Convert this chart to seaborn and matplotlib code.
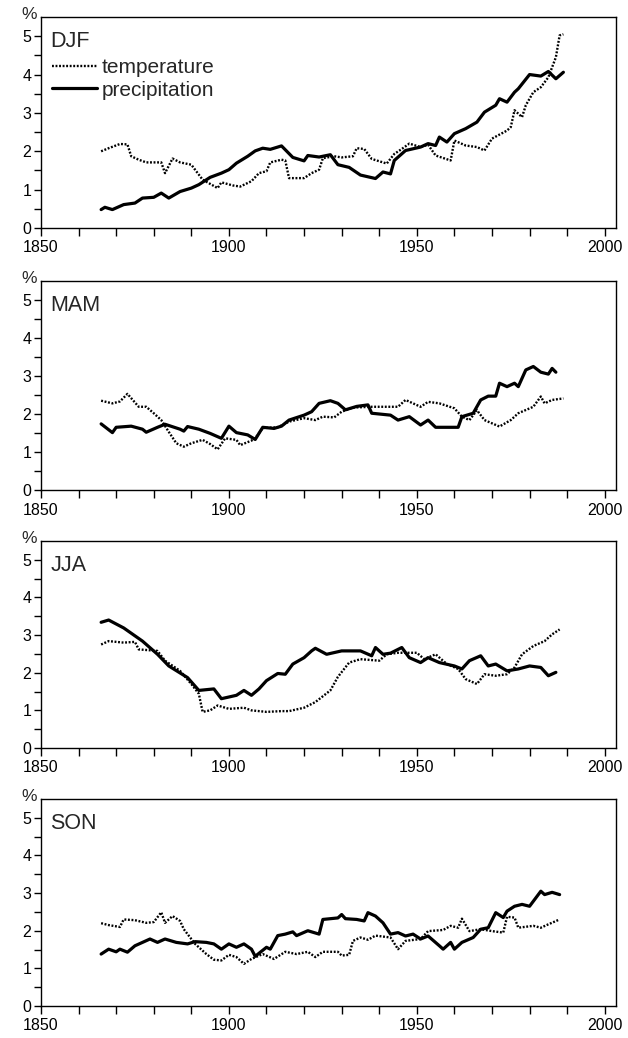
import matplotlib
matplotlib.use("Agg")
import matplotlib.pyplot as plt
import seaborn as sns

# ---------------- data ----------------
seasons = ["DJF", "MAM", "JJA", "SON"]
series_labels = ["temperature", "precipitation"]
x_major = [1850, 1900, 1950, 2000]
y_major = [0, 1, 2, 3, 4, 5]

djf_temp_years = [1866, 1868, 1871, 1873, 1874, 1876, 1878, 1882, 1883, 1885,
                  1887, 1890, 1893, 1897, 1898, 1901, 1903, 1906, 1908, 1910,
                  1911, 1914, 1915, 1916, 1920, 1922, 1924, 1925, 1928, 1930,
                  1933, 1934, 1936, 1938, 1942, 1944, 1946, 1948, 1951, 1953,
                  1955, 1959, 1960, 1963, 1966, 1968, 1970, 1974, 1975, 1976,
                  1978, 1979, 1981, 1983, 1985, 1987, 1988, 1989]
djf_temp = [2.00, 2.08, 2.19, 2.18, 1.87, 1.78, 1.71, 1.71, 1.43, 1.81,
            1.71, 1.65, 1.26, 1.04, 1.19, 1.11, 1.08, 1.22, 1.43, 1.48,
            1.71, 1.78, 1.76, 1.30, 1.30, 1.43, 1.52, 1.82, 1.87, 1.84,
            1.87, 2.08, 2.06, 1.80, 1.68, 1.93, 2.06, 2.20, 2.11, 2.17,
            1.89, 1.76, 2.28, 2.15, 2.11, 2.02, 2.33, 2.54, 2.63, 3.07,
            2.89, 3.20, 3.54, 3.67, 3.93, 4.45, 5.02, 5.05]

djf_prec_years = [1866, 1867, 1869, 1872, 1875, 1877, 1880, 1882, 1884, 1887,
                  1890, 1892, 1895, 1898, 1900, 1902, 1905, 1907, 1909, 1911,
                  1914, 1917, 1920, 1921, 1924, 1927, 1929, 1932, 1935, 1939,
                  1941, 1943, 1944, 1947, 1951, 1953, 1955, 1956, 1958, 1960,
                  1963, 1966, 1968, 1971, 1972, 1974, 1976, 1977, 1980, 1983,
                  1985, 1987, 1989]
djf_prec = [0.48, 0.54, 0.48, 0.61, 0.65, 0.78, 0.80, 0.91, 0.78, 0.95,
            1.04, 1.13, 1.32, 1.43, 1.52, 1.69, 1.87, 2.01, 2.08, 2.05,
            2.14, 1.84, 1.75, 1.89, 1.85, 1.91, 1.65, 1.58, 1.38, 1.29,
            1.46, 1.41, 1.76, 2.02, 2.11, 2.20, 2.15, 2.37, 2.24, 2.46,
            2.59, 2.76, 3.02, 3.20, 3.37, 3.28, 3.54, 3.63, 4.00, 3.96,
            4.08, 3.89, 4.06]

mam_temp_years = [1866, 1869, 1871, 1873, 1876, 1878, 1880, 1882, 1884, 1886,
                  1888, 1890, 1893, 1895, 1897, 1899, 1902, 1903, 1906, 1907,
                  1909, 1913, 1916, 1920, 1923, 1925, 1928, 1930, 1933, 1938,
                  1942, 1945, 1947, 1951, 1953, 1956, 1960, 1962, 1964, 1966,
                  1968, 1972, 1975, 1977, 1981, 1983, 1984, 1986, 1989]
mam_temp = [2.35, 2.28, 2.33, 2.53, 2.19, 2.19, 2.02, 1.84, 1.53, 1.23,
            1.14, 1.23, 1.32, 1.21, 1.07, 1.36, 1.32, 1.18, 1.30, 1.36,
            1.63, 1.65, 1.80, 1.89, 1.84, 1.93, 1.91, 2.06, 2.17, 2.19,
            2.19, 2.19, 2.37, 2.19, 2.32, 2.28, 2.15, 1.93, 1.84, 2.10,
            1.84, 1.67, 1.84, 2.02, 2.19, 2.46, 2.28, 2.37, 2.41]

mam_prec_years = [1866, 1869, 1870, 1874, 1877, 1878, 1881, 1883, 1887, 1888,
                  1889, 1892, 1895, 1898, 1900, 1902, 1905, 1907, 1909, 1912,
                  1914, 1916, 1920, 1922, 1924, 1927, 1929, 1931, 1934, 1937,
                  1938, 1943, 1945, 1948, 1951, 1953, 1955, 1961, 1962, 1965,
                  1967, 1969, 1971, 1972, 1974, 1976, 1977, 1979, 1981, 1983,
                  1985, 1986, 1987]
mam_prec = [1.74, 1.51, 1.65, 1.68, 1.60, 1.52, 1.65, 1.73, 1.60, 1.55,
            1.67, 1.60, 1.49, 1.36, 1.68, 1.51, 1.45, 1.33, 1.65, 1.62,
            1.68, 1.84, 1.97, 2.06, 2.28, 2.35, 2.28, 2.11, 2.20, 2.24,
            2.02, 1.97, 1.84, 1.93, 1.71, 1.84, 1.65, 1.65, 1.93, 2.02,
            2.37, 2.47, 2.47, 2.81, 2.72, 2.81, 2.72, 3.16, 3.25, 3.10,
            3.05, 3.20, 3.10]

jja_temp_years = [1866, 1868, 1872, 1875, 1876, 1881, 1883, 1887, 1890, 1892,
                  1893, 1895, 1897, 1900, 1904, 1906, 1910, 1914, 1916, 1920,
                  1923, 1927, 1929, 1932, 1935, 1940, 1942, 1945, 1950, 1952,
                  1955, 1958, 1961, 1963, 1966, 1968, 1971, 1974, 1976, 1978,
                  1981, 1984, 1986, 1988]
jja_temp = [2.75, 2.84, 2.80, 2.82, 2.62, 2.58, 2.32, 2.05, 1.70, 1.44,
            0.96, 1.00, 1.13, 1.04, 1.07, 1.00, 0.96, 0.98, 0.98, 1.07,
            1.22, 1.53, 1.89, 2.27, 2.36, 2.32, 2.49, 2.53, 2.53, 2.36,
            2.49, 2.23, 2.10, 1.83, 1.70, 1.96, 1.92, 1.96, 2.14, 2.49,
            2.71, 2.84, 3.02, 3.15]

jja_prec_years = [1866, 1868, 1872, 1877, 1881, 1884, 1889, 1892, 1896, 1898,
                  1902, 1904, 1906, 1908, 1910, 1913, 1915, 1917, 1920, 1922,
                  1923, 1926, 1930, 1935, 1938, 1939, 1941, 1943, 1946, 1948,
                  1951, 1953, 1956, 1960, 1962, 1964, 1967, 1969, 1971, 1974,
                  1977, 1980, 1983, 1985, 1987]
jja_prec = [3.34, 3.40, 3.19, 2.84, 2.49, 2.18, 1.87, 1.53, 1.57, 1.31,
            1.40, 1.53, 1.40, 1.57, 1.79, 1.98, 1.96, 2.23, 2.40, 2.58,
            2.65, 2.49, 2.58, 2.58, 2.45, 2.67, 2.49, 2.52, 2.67, 2.40,
            2.27, 2.40, 2.27, 2.18, 2.10, 2.32, 2.45, 2.18, 2.23, 2.05,
            2.10, 2.18, 2.14, 1.92, 2.01]

son_temp_years = [1866, 1868, 1871, 1872, 1875, 1878, 1880, 1882, 1883, 1885,
                  1887, 1888, 1890, 1891, 1894, 1896, 1898, 1900, 1902, 1904,
                  1906, 1909, 1912, 1915, 1918, 1921, 1923, 1925, 1929, 1930,
                  1932, 1933, 1935, 1937, 1939, 1943, 1945, 1947, 1951, 1953,
                  1957, 1959, 1961, 1962, 1964, 1967, 1970, 1973, 1974, 1976,
                  1977, 1981, 1983, 1985, 1988]
son_temp = [2.20, 2.15, 2.10, 2.30, 2.28, 2.21, 2.23, 2.49, 2.21, 2.39,
            2.26, 2.04, 1.78, 1.65, 1.38, 1.23, 1.21, 1.36, 1.30, 1.12,
            1.25, 1.38, 1.25, 1.44, 1.38, 1.44, 1.30, 1.44, 1.44, 1.34,
            1.36, 1.73, 1.82, 1.76, 1.87, 1.82, 1.51, 1.73, 1.78, 1.99,
            2.02, 2.13, 2.08, 2.32, 1.99, 2.04, 1.99, 1.95, 2.37, 2.35,
            2.08, 2.13, 2.08, 2.17, 2.30]

son_prec_years = [1866, 1868, 1870, 1871, 1873, 1875, 1877, 1879, 1881, 1883,
                  1886, 1889, 1891, 1894, 1896, 1898, 1900, 1902, 1904, 1906,
                  1907, 1910, 1911, 1913, 1915, 1917, 1918, 1921, 1924, 1925,
                  1929, 1930, 1931, 1934, 1936, 1937, 1939, 1941, 1943, 1945,
                  1947, 1949, 1951, 1953, 1956, 1957, 1959, 1960, 1962, 1965,
                  1967, 1969, 1971, 1973, 1974, 1976, 1978, 1980, 1983, 1984,
                  1986, 1988]
son_prec = [1.38, 1.51, 1.44, 1.51, 1.43, 1.60, 1.69, 1.78, 1.69, 1.78,
            1.69, 1.65, 1.71, 1.69, 1.65, 1.51, 1.65, 1.56, 1.65, 1.51,
            1.32, 1.56, 1.51, 1.87, 1.91, 1.97, 1.87, 2.00, 1.91, 2.30,
            2.34, 2.43, 2.32, 2.30, 2.26, 2.48, 2.39, 2.21, 1.91, 1.95,
            1.86, 1.91, 1.78, 1.86, 1.60, 1.51, 1.69, 1.51, 1.69, 1.82,
            2.04, 2.08, 2.48, 2.35, 2.52, 2.65, 2.70, 2.65, 3.05, 2.96,
            3.02, 2.96]

panels = [
    (djf_temp_years, djf_temp, djf_prec_years, djf_prec),
    (mam_temp_years, mam_temp, mam_prec_years, mam_prec),
    (jja_temp_years, jja_temp, jja_prec_years, jja_prec),
    (son_temp_years, son_temp, son_prec_years, son_prec),
]
for ty, tv, py, pv in panels:
    assert len(ty) == len(tv) and len(py) == len(pv)

# ---------------- style ----------------
sns.set_theme(style="ticks")
plt.rcParams["font.family"] = ["Liberation Sans", "DejaVu Sans"]
plt.rcParams["axes.edgecolor"] = "black"
plt.rcParams["axes.linewidth"] = 1.0
plt.rcParams["xtick.color"] = "black"
plt.rcParams["ytick.color"] = "black"

W, H = 628, 1038
fig = plt.figure(figsize=(W / 100, H / 100), dpi=100)

# panel boxes in pixels (top, bottom)
boxes = [(17, 228), (281, 490), (541, 748), (799, 1006)]
left_px, right_px = 41, 616

for i, (season, (ty, tv, py, pv)) in enumerate(zip(seasons, panels)):
    top, bot = boxes[i]
    ax = fig.add_axes([left_px / W, 1 - bot / H, (right_px - left_px) / W, (bot - top) / H])
    sns.lineplot(x=ty, y=tv, ax=ax, color="black", linewidth=1.7,
                 linestyle=(0, (0.8, 0.7)), estimator=None,
                 label=series_labels[0] if i == 0 else None)
    sns.lineplot(x=py, y=pv, ax=ax, color="black", linewidth=2.3,
                 estimator=None,
                 label=series_labels[1] if i == 0 else None)
    ax.set_xlim(1850, 2003)
    ax.set_ylim(0, 5.5)
    ax.set_xticks(x_major)
    ax.set_xticks(list(range(1860, 2000, 10)), minor=True)
    ax.set_yticks(y_major)
    ax.set_yticks([0.5, 1.5, 2.5, 3.5, 4.5], minor=True)
    ax.tick_params(axis="x", which="both", direction="out", length=6, width=1,
                   labelsize=11.5, pad=3)
    ax.tick_params(axis="y", which="both", direction="out", length=5, width=1,
                   labelsize=11.5, pad=2)
    ax.set_xlabel("")
    ax.set_ylabel("")
    ax.grid(False)
    for s in ax.spines.values():
        s.set_visible(True)
        s.set_linewidth(1.0)
    ax.text(0.016, 4.85 / 5.5, season, transform=ax.transAxes, ha="left",
            va="center", fontsize=15.5)
    ax.text(-0.008, 1.01, "%", transform=ax.transAxes, ha="right",
            va="center", fontsize=12.5)
    if i == 0:
        ax.legend(loc="upper left", bbox_to_anchor=(1853.0, 4.42),
                  bbox_transform=ax.transData, frameon=False, fontsize=15,
                  handlelength=2.15, handletextpad=0.2, labelspacing=0.15,
                  borderpad=0, borderaxespad=0)
    elif ax.get_legend() is not None:
        ax.get_legend().remove()

fig.savefig("out.png", dpi=100, facecolor="white")
